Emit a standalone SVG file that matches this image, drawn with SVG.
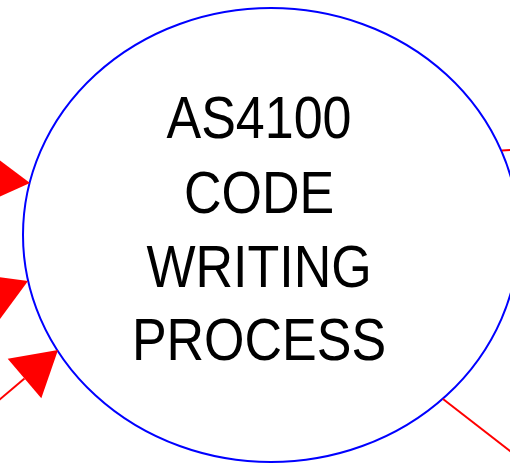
<svg xmlns="http://www.w3.org/2000/svg" width="510" height="466" viewBox="0 0 510 466">
<style>
.node{fill:#ffffff;stroke:#0000ff;stroke-width:2}
.lbl{font-family:"Liberation Sans",Arial,sans-serif;font-size:52px;fill:#000000;text-anchor:middle}
.conn{stroke:#ff0000;stroke-width:2;fill:none}
.head{fill:#ff0000;stroke:none}
</style>
<rect width="510" height="466" fill="#ffffff"/>
<g id="process">
<ellipse class="node" cx="271" cy="235" rx="248" ry="227"/>
<text class="lbl" transform="matrix(1,0,0,1.155,259,138)">AS4100</text>
<text class="lbl" transform="matrix(1,0,0,1.155,259,213)">CODE</text>
<text class="lbl" transform="matrix(1,0,0,1.155,259,287)">WRITING</text>
<text class="lbl" transform="matrix(1,0,0,1.155,259,360)">PROCESS</text>
</g>
<g id="connectors">
<line class="conn" x1="-60" y1="171" x2="-13" y2="178"/>
<polygon class="head" points="30,183 -10.9,152.4 -16.5,204"/>
<line class="conn" x1="-60" y1="319" x2="-12" y2="298"/>
<polygon class="head" points="28,281 -22.7,274.3 -2.3,322.1"/>
<line class="conn" x1="-2" y1="401" x2="24.5" y2="378.5"/>
<polygon class="head" points="58,350 7.7,358.7 41.3,398.3"/>
<line class="conn" x1="502" y1="150.5" x2="512" y2="150"/>
<line class="conn" x1="443" y1="399" x2="514" y2="454"/>
</g>
</svg>
